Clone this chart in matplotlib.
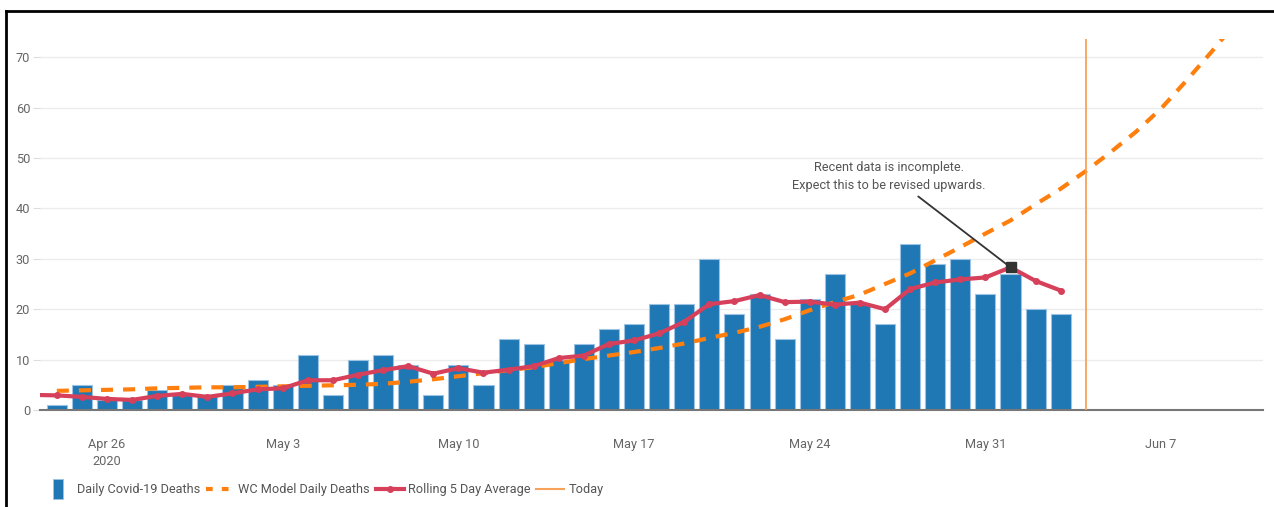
import numpy as np
import pandas as pd
import matplotlib
matplotlib.use("Agg")
import matplotlib.pyplot as plt
import matplotlib.dates as mdates
from matplotlib.lines import Line2D
from matplotlib.path import Path

plt.rcParams['font.family'] = ['Roboto', 'DejaVu Sans']

# ---- data ----
death_dates = pd.date_range("2020-04-24", "2020-06-03")
daily_deaths = [1, 5, 2, 2, 4, 3, 3,
                5, 6, 5, 11, 3, 10, 11, 9, 3, 9, 5, 14, 13, 10, 13, 16, 17, 21, 21,
                30, 19, 23, 14, 22, 27, 21, 17, 33, 29, 30, 23,
                27, 20, 19]

avg_dates = pd.date_range("2020-04-23", "2020-06-03")
rolling_avg = [3.0, 2.9, 2.6, 2.2, 2.0, 2.8, 3.2, 2.6,
               3.3, 4.1, 4.3, 5.9, 5.9, 7.0, 7.9, 8.7, 7.2, 8.3, 7.4, 8.0, 8.7,
               10.3, 10.8, 13.1, 13.8, 15.2, 17.5, 21.0, 21.6, 22.8, 21.4, 21.5,
               20.9, 21.3, 20.0, 24.0, 25.3, 25.9, 26.3,
               28.3, 25.6, 23.7]

model_dates = pd.date_range("2020-04-24", "2020-06-10")
model_deaths = [3.8, 3.9, 4.0, 4.1, 4.3, 4.4, 4.5,
                4.5, 4.6, 4.7, 4.8, 4.9, 5.0, 5.2, 5.6, 6.1, 6.7, 7.3, 7.9, 8.5,
                9.3, 10.1, 10.8, 11.5, 12.3, 13.2, 14.3, 15.3, 16.5, 18.0, 19.8,
                21.4, 22.9, 25.0, 27.1, 29.7, 32.3, 35.0,
                37.6, 40.8, 43.9, 47.4, 51.2, 55.2, 59.8, 65.3, 71.0, 77.0]

today = pd.Timestamp("2020-06-04")
note_date = pd.Timestamp("2020-06-01")
note_value = 28.3
tick_dates = pd.date_range("2020-04-26", "2020-06-07", freq="7D")

# ---- style ----
BLUE = "#1f77b4"
RED = "#d6405a"
ORANGE = "#ff7f0e"
TODAY = "#f7a35c"
TXT = "#555555"
FS = 9.2

W, H = 1274, 507
fig = plt.figure(figsize=(W / 100, H / 100), dpi=100)
ax = fig.add_axes([40 / W, (H - 410) / H, (1263 - 40) / W, (410 - 39) / H])

ax.bar(death_dates, daily_deaths, width=0.8, color=BLUE,
       edgecolor="#9cc3e4", linewidth=0.8, zorder=2)
ax.plot(model_dates, model_deaths, color=ORANGE, lw=3, ls=(0, (2.9, 2.4)),
        dash_capstyle="butt", zorder=3)
ax.plot(avg_dates, rolling_avg, color=RED, lw=3, marker="o", markersize=4,
        zorder=4)
ax.axvline(today, color=TODAY, lw=1.3, zorder=3)

# annotation on the latest complete-ish point
ax.plot([note_date], [note_value], marker="s", color="#333333",
        markersize=7, zorder=6)
ax.annotate("Recent data is incomplete.\nExpect this to be revised upwards.",
            xy=(note_date, note_value),
            xytext=(pd.Timestamp("2020-05-27 04:00"), 49.3),
            ha="center", va="top", multialignment="center",
            fontsize=FS, color=TXT, linespacing=1.45,
            arrowprops=dict(arrowstyle="-", color="#333333", lw=1.3,
                            relpos=(0.62, 0.0), shrinkA=2, shrinkB=0),
            zorder=5)

x0 = mdates.date2num(pd.Timestamp("2020-04-26"))
ax.set_xlim(x0 - 2.67, x0 + 46.06)
ax.set_ylim(0, 73.6)

ax.set_yticks(range(0, 80, 10))
ax.yaxis.grid(True, color="#ececec", lw=1, zorder=0)
ax.set_axisbelow(True)
ax.tick_params(axis="y", length=5, width=0.8, color="#dddddd",
               labelsize=FS, labelcolor="#666666", pad=2)

ax.set_xticks(tick_dates)
labels = [d.strftime("%b %-d") for d in tick_dates]
labels[0] = labels[0] + "\n2020"
ax.set_xticklabels(labels, va="top", linespacing=1.4, multialignment="center")
ax.tick_params(axis="x", length=0, labelsize=FS, labelcolor="#666666", pad=20)

for s in ["top", "right", "left"]:
    ax.spines[s].set_visible(False)
ax.spines["bottom"].set_color("#777777")
ax.spines["bottom"].set_linewidth(1.5)

# ---- legend ----
rect = Path([(-0.27, -0.5), (0.27, -0.5), (0.27, 0.5), (-0.27, 0.5), (-0.27, -0.5)],
            [Path.MOVETO, Path.LINETO, Path.LINETO, Path.LINETO, Path.CLOSEPOLY])
handles = [
    Line2D([], [], marker=rect, ls="none", markersize=14, color=BLUE,
           markeredgecolor="#9cc3e4", markeredgewidth=0.6),
    Line2D([], [], color=ORANGE, lw=3, ls=(0, (1.6, 2.2)), dash_capstyle="butt"),
    Line2D([], [], color=RED, lw=3, marker="o", markersize=4),
    Line2D([], [], color=TODAY, lw=1.5),
]
names = ["Daily Covid-19 Deaths", "WC Model Daily Deaths",
         "Rolling 5 Day Average", "Today"]
leg = fig.legend(handles, names, loc="center left", ncol=4,
                 bbox_to_anchor=(44 / W, 1 - 490 / H), frameon=False,
                 fontsize=FS, handlelength=2.2, handletextpad=0.35,
                 columnspacing=0.45, borderaxespad=0, borderpad=0)
for t in leg.get_texts():
    t.set_color(TXT)

# black frame lines on the left and top edges of the image
fig.add_artist(Line2D([6 / W, 6 / W], [0, 1 - 11 / H], color="black", lw=2,
                      transform=fig.transFigure))
fig.add_artist(Line2D([6 / W, 1], [1 - 11 / H, 1 - 11 / H], color="black", lw=2,
                      transform=fig.transFigure))

fig.savefig("out.png", dpi=100)
